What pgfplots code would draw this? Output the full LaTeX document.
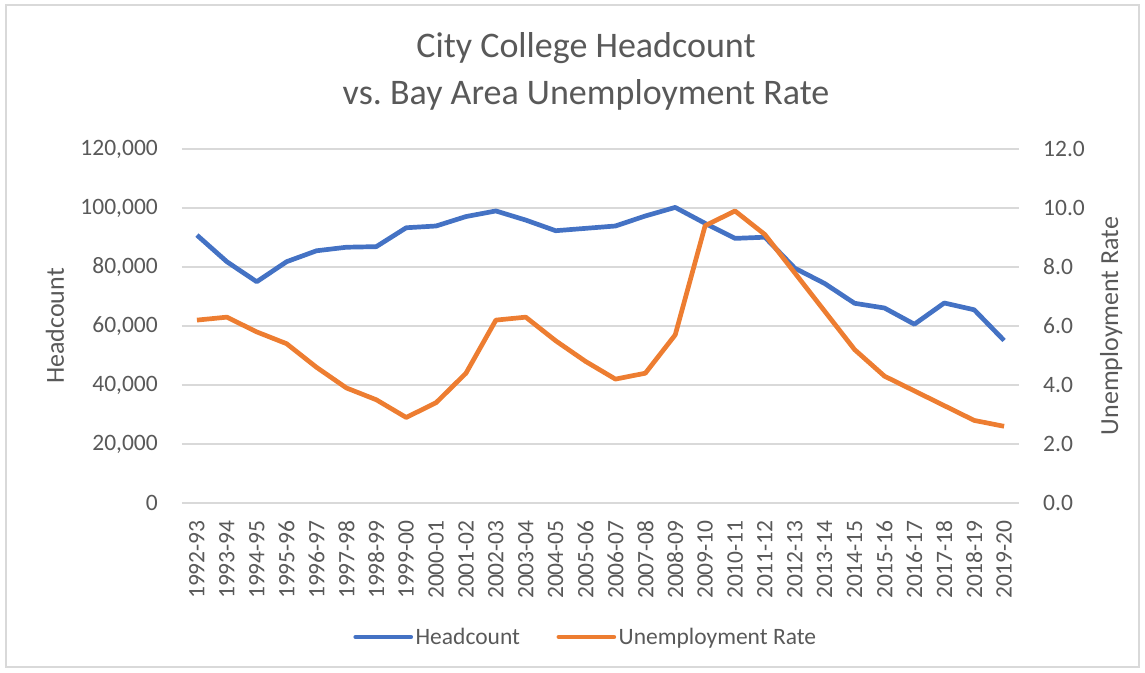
\documentclass[border=0pt]{standalone}
\usepackage{fontspec}
\setmainfont{Carlito}
\usepackage{pgfplots}
\pgfplotsset{compat=1.18}
\definecolor{cblue}{HTML}{4472C4}
\definecolor{corange}{HTML}{ED7D31}
\definecolor{ctext}{HTML}{595959}
\definecolor{cgrid}{HTML}{D9D9D9}
\frenchspacing
\begin{document}
\begin{tikzpicture}
\pgfplotsset{
  common/.style={
    scale only axis, width=837pt, height=354pt,
    xmin=-0.5, xmax=27.5, ymin=0,
    axis line style={draw=none},
    major tick length=0pt,
    tick style={draw=none},
    tick label style={font=\fontsize{23.5}{28}\selectfont, text=ctext},
    /pgf/number format/assume math mode=true,
    legend image code/.code={\draw[##1, line cap=round] (0pt,0pt) -- (55pt,0pt);},
  }
}
\begin{axis}[common,
  ymax=120000, ytick={0,20000,40000,60000,80000,100000,120000},
  scaled y ticks=false,
  /pgf/number format/fixed,
  /pgf/number format/1000 sep={,},
  yticklabel style={anchor=east, inner sep=0pt},
  yticklabel shift=24pt,
  ymajorgrids, grid style={cgrid, line width=1.3pt},
  xtick={0,...,27},
  xticklabels={1992-93,1993-94,1994-95,1995-96,1996-97,1997-98,1998-99,1999-00,2000-01,2001-02,2002-03,2003-04,2004-05,2005-06,2006-07,2007-08,2008-09,2009-10,2010-11,2011-12,2012-13,2013-14,2014-15,2015-16,2016-17,2017-18,2018-19,2019-20},
  xticklabel style={rotate=90, anchor=east, inner sep=0pt},
  xticklabel shift=17pt,
  ylabel={Headcount},
  every axis y label/.style={at={(axis description cs:-0.1517,0.5)}, rotate=90, anchor=center,
    font=\fontsize{26}{31}\selectfont, text=ctext},
]
\addplot[cblue, line width=4.7pt, line join=round] coordinates {
(0,90800) (1,81800) (2,75000) (3,81800) (4,85500) (5,86700) (6,86900) (7,93300)
(8,93900) (9,97100) (10,99000) (11,95900) (12,92300) (13,93100) (14,93900) (15,97300)
(16,100200) (17,94800) (18,89700) (19,90100) (20,79600) (21,74400) (22,67700) (23,66100)
(24,60600) (25,67800) (26,65500) (27,55100)};
\end{axis}
\begin{axis}[common,
  ymax=12, ytick={0,2,4,6,8,10,12},
  hide x axis,
  yticklabel pos=right,
  /pgf/number format/fixed,
  /pgf/number format/fixed zerofill,
  /pgf/number format/precision=1,
  yticklabel style={anchor=west, inner sep=0pt},
  yticklabel shift=24pt,
  ylabel={Unemployment Rate},
  every axis y label/.style={at={(axis description cs:1.110,0.5)}, rotate=90, anchor=center,
    font=\fontsize{26}{31}\selectfont, text=ctext},
  legend columns=2,
  legend style={at={(axis description cs:0.4827,-0.3785)}, anchor=center, draw=none, fill=none,
    font=\fontsize{23.5}{28}\selectfont, text=ctext, inner sep=0pt,
    nodes={inner sep=2.5pt},
    /tikz/every even column/.append style={column sep=34pt}},
]
\addlegendimage{cblue, line width=4.7pt}
\addlegendentry{Headcount}
\addplot[corange, line width=4.7pt, line join=round] coordinates {
(0,6.2) (1,6.3) (2,5.8) (3,5.4) (4,4.6) (5,3.9) (6,3.5) (7,2.9)
(8,3.4) (9,4.4) (10,6.2) (11,6.3) (12,5.5) (13,4.8) (14,4.2) (15,4.4)
(16,5.7) (17,9.4) (18,9.9) (19,9.1) (20,7.8) (21,6.5) (22,5.2) (23,4.3)
(24,3.8) (25,3.3) (26,2.8) (27,2.6)};
\addlegendentry{Unemployment Rate}
\end{axis}
\node[anchor=base, font=\fontsize{36}{43}\selectfont, text=ctext] at (404pt,445pt) {City College Headcount};
\node[anchor=base, font=\fontsize{36}{43}\selectfont, text=ctext] at (404pt,398pt) {vs. Bay Area Unemployment Rate};
\pgfresetboundingbox
\path[use as bounding box] (-182pt,-169pt) rectangle (963pt,503pt);
\draw[cgrid, line width=1.3pt] (-176pt,-164pt) rectangle (957pt,498pt);
\end{tikzpicture}
\end{document}
